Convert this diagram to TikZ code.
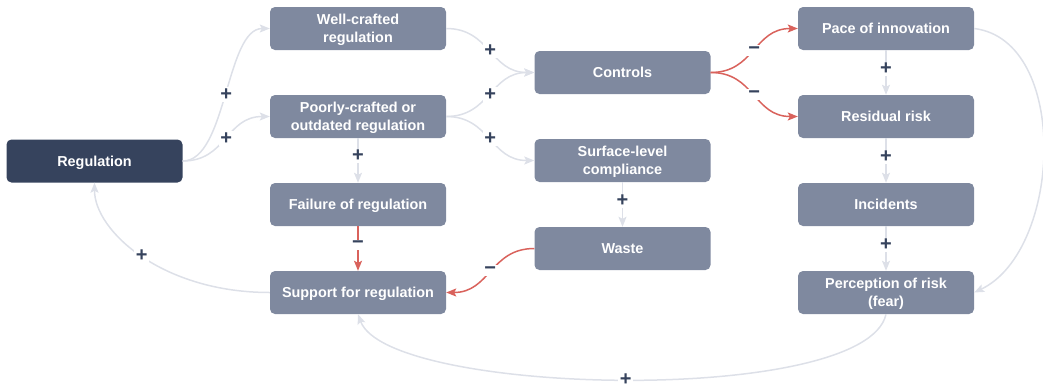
\documentclass[tikz,border=0pt]{standalone}
\usepackage{fontspec}
\setmainfont{Liberation Sans}
\usetikzlibrary{arrows.meta}
\definecolor{nodefill}{RGB}{127,137,159}
\definecolor{darkfill}{RGB}{54,67,93}
\definecolor{edgegray}{RGB}{221,224,232}
\definecolor{edgered}{RGB}{217,98,92}
\definecolor{signcol}{RGB}{54,67,93}
\tikzset{
  box/.style={rectangle, rounded corners=5pt, fill=nodefill, text=white,
    minimum width=176pt, minimum height=43pt, inner sep=0pt, align=center,
    text depth=0pt,
    font=\bfseries\fontsize{14.4}{17.5}\selectfont},
  darkbox/.style={box, fill=darkfill},
  gedge/.style={draw=edgegray, line width=1.5pt,
    -{Stealth[length=10pt,width=8pt,inset=2pt]}},
  redge/.style={draw=edgered, line width=1.5pt,
    -{Stealth[length=10pt,width=8pt,inset=2pt]}},
  sgn/.style={fill=white, text=signcol, inner sep=1.5pt,
    font=\bfseries\fontsize{20}{20}\selectfont}
}
\begin{document}
\begin{tikzpicture}[x=1pt,y=-1pt]
\useasboundingbox (0,0) rectangle (1043,389);
% nodes
\node[darkbox] (reg) at (94.5,161) {Regulation};
\node[box] (well) at (358,28.5) {Well-crafted\\regulation};
\node[box] (poor) at (358,116.5) {Poorly-crafted or\\outdated regulation};
\node[box] (fail) at (358,204.5) {Failure of regulation};
\node[box] (sup) at (358,292.5) {Support for regulation};
\node[box] (ctrl) at (622.5,72.5) {Controls};
\node[box] (surf) at (622.5,160.5) {Surface-level\\compliance};
\node[box] (waste) at (622.5,248.5) {Waste};
\node[box] (pace) at (886,28.5) {Pace of innovation};
\node[box] (resid) at (886,116.5) {Residual risk};
\node[box] (inc) at (886,204.5) {Incidents};
\node[box] (perc) at (886,292.5) {Perception of risk\\(fear)};
% edges
\draw[gedge] (reg.east) .. controls +(44,0) and +(-44,0) .. node[sgn] {+} (well.west);
\draw[gedge] (reg.east) .. controls +(44,0) and +(-44,0) .. node[sgn] {+} (poor.west);
\draw[gedge] (well.east) .. controls +(44,0) and +(-44,0) .. node[sgn] {+} (ctrl.west);
\draw[gedge] (poor.east) .. controls +(44,0) and +(-44,0) .. node[sgn] {+} (ctrl.west);
\draw[gedge] (poor.east) .. controls +(44,0) and +(-44,0) .. node[sgn] {+} (surf.west);
\draw[gedge] (poor.south) -- node[sgn,pos=0.4] {+} (fail.north);
\draw[redge] (fail.south) -- node[sgn,pos=0.42] {−} (sup.north);
\draw[gedge] (surf.south) -- node[sgn,pos=0.42] {+} (waste.north);
\draw[redge] (waste.west) .. controls +(-44,0) and +(44,0) .. node[sgn] {−} (sup.east);
\draw[gedge] (sup.west) .. controls +(-108,0) and +(0,48) .. node[sgn] {+} (reg.south);
\draw[redge] (ctrl.east) .. controls +(44,0) and +(-44,0) .. node[sgn] {−} (pace.west);
\draw[redge] (ctrl.east) .. controls +(44,0) and +(-44,0) .. node[sgn] {−} (resid.west);
\draw[gedge] (pace.south) -- node[sgn,pos=0.42] {+} (resid.north);
\draw[gedge] (resid.south) -- node[sgn,pos=0.42] {+} (inc.north);
\draw[gedge] (inc.south) -- node[sgn,pos=0.42] {+} (perc.north);
\draw[gedge] (pace.east) .. controls +(96,12) and +(88,-42) .. (perc.east);
\draw[gedge] (perc.south) .. controls +(-20,92) and +(30,82) .. node[sgn] {+} (sup.south);
\end{tikzpicture}
\end{document}
